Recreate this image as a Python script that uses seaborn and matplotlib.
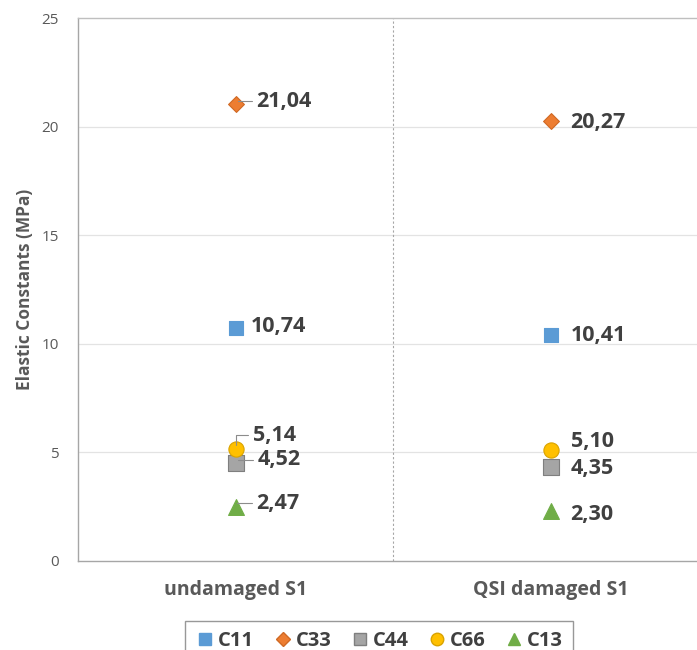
import matplotlib
matplotlib.use("Agg")
import matplotlib.pyplot as plt
import seaborn as sns
import pandas as pd
from matplotlib.lines import Line2D

# --- data ---
conditions = ["undamaged S1", "QSI damaged S1"]
constants = ["C11", "C33", "C44", "C66", "C13"]
undamaged = [10.74, 21.04, 4.52, 5.14, 2.47]
qsi_damaged = [10.41, 20.27, 4.35, 5.10, 2.30]
label_text = {
    "undamaged S1": ["10,74", "21,04", "4,52", "5,14", "2,47"],
    "QSI damaged S1": ["10,41", "20,27", "4,35", "5,10", "2,30"],
}

rows = []
for cond, vals in zip(conditions, [undamaged, qsi_damaged]):
    for c, v in zip(constants, vals):
        rows.append({"condition": cond, "constant": c, "value": v})
df = pd.DataFrame(rows)
df["pos"] = df["condition"].map({c: i for i, c in enumerate(conditions)})

# --- styles ---
colors = {"C11": "#5B9BD5", "C33": "#ED7D31", "C44": "#A5A5A5", "C66": "#FFC000", "C13": "#70AD47"}
edges = {"C11": "#5B9BD5", "C33": "#D06A25", "C44": "#7F7F7F", "C66": "#D9A300", "C13": "#70AD47"}
markers = {"C11": "s", "C33": "D", "C44": "s", "C66": "o", "C13": "^"}
sizes = {"C11": 110, "C33": 65, "C44": 120, "C66": 120, "C13": 130}

# label offsets in pixels (dx, dy up)
offsets = {
    "undamaged S1": {"C11": (15, 1), "C33": (21, 3), "C44": (22, 3), "C66": (17, 14), "C13": (21, 4)},
    "QSI damaged S1": {"C11": (20, -1), "C33": (20, -2), "C44": (20, -2), "C66": (20, 9), "C13": (20, -3)},
}

sns.set_theme(style="white")
plt.rcParams["font.family"] = ["Open Sans", "DejaVu Sans"]

fig = plt.figure(figsize=(6.97, 6.5), dpi=100)
ax = fig.add_axes([78 / 697, 89 / 650, 630 / 697, 543 / 650])

for c in constants:
    sub = df[df["constant"] == c]
    sns.scatterplot(data=sub, x="pos", y="value", ax=ax, color=colors[c],
                    marker=markers[c], s=sizes[c], edgecolor=edges[c],
                    linewidth=0.8, zorder=3, legend=False)

px2pt = 72 / 100
for cond in conditions:
    sub = df[df["condition"] == cond]
    for c, v, x in zip(sub["constant"], sub["value"], sub["pos"]):
        dx, dy = offsets[cond][c]
        txt = label_text[cond][constants.index(c)]
        arrow = None
        if cond == "undamaged S1" and c != "C11":
            arrow = dict(arrowstyle="-", color="#8C8C8C", lw=0.8, shrinkA=1, shrinkB=3,
                         connectionstyle="angle,angleA=0,angleB=90,rad=0")
        ax.annotate(txt, xy=(x, v), xytext=(dx * px2pt, dy * px2pt),
                    textcoords="offset points", ha="left", va="center",
                    fontsize=15.5, fontweight="bold", color="#404040",
                    arrowprops=arrow, zorder=4)

ax.set_xlim(-0.5, 1.5)
ax.set_ylim(0, 25)
ax.set_yticks([0, 5, 10, 15, 20, 25])
ax.set_xticks([0, 1])
ax.set_xticklabels(conditions, fontsize=14, fontweight="bold", color="#595959")
ax.tick_params(axis="y", labelsize=11, labelcolor="#595959", length=0, pad=14)
ax.tick_params(axis="x", length=0, pad=14)
ax.set_xlabel("")
ax.set_ylabel("Elastic Constants (MPa)", fontsize=12.5, fontweight="bold", color="#595959", labelpad=5)

for y in [5, 10, 15, 20]:
    ax.axhline(y, color="#E3E3E3", lw=0.9, zorder=0)
ax.axvline(0.5, color="#A6A6A6", lw=0.8, ls=(0, (2, 2)), zorder=0)

for side in ["left", "bottom", "top"]:
    ax.spines[side].set_color("#A6A6A6")
    ax.spines[side].set_linewidth(1.0)
ax.spines["top"].set_color("#BFBFBF")
ax.spines["right"].set_visible(False)

handles = [Line2D([], [], ls="none", marker=markers[c], color=colors[c],
                  markeredgecolor=edges[c], markersize=9 if markers[c] != "D" else 7,
                  label=c) for c in constants]
leg = fig.legend(handles=handles, loc="upper center", bbox_to_anchor=(379 / 697, 1 - 611 / 650),
                 ncol=5, frameon=True, fancybox=False, handletextpad=0.15, columnspacing=0.9,
                 prop={"weight": "bold", "size": 14.5}, borderpad=0.5, handlelength=1.0)
leg.get_frame().set_edgecolor("#7F7F7F")
leg.get_frame().set_linewidth(1.0)
for t in leg.get_texts():
    t.set_color("#404040")

fig.savefig("out.png", dpi=100)
